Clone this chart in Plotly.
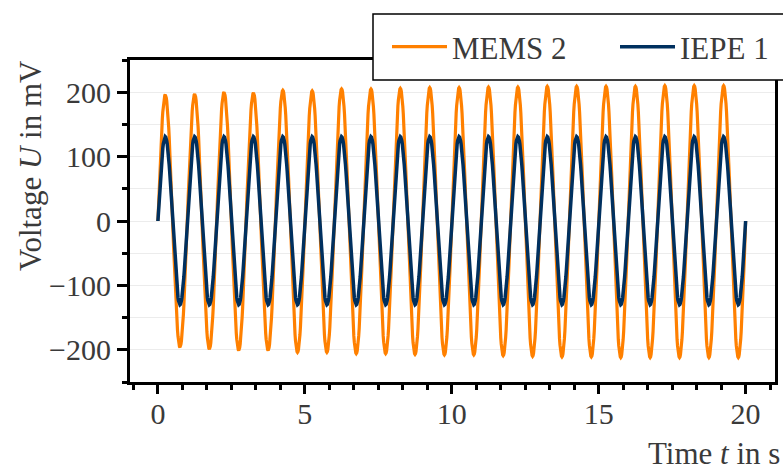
import numpy as np
import plotly.graph_objects as go

# Per-cycle amplitudes (1 Hz signal, 20 cycles over 20 s)
cycles = list(range(20))
mems2_peaks = [196, 197, 200, 199, 203, 202, 205, 205, 206, 207,
               207, 208, 208, 209, 209, 209, 209, 210, 210, 210]
mems2_troughs = [-196, -199, -201, -201, -204, -204, -206, -206, -207, -208,
                 -208, -209, -210, -211, -211, -212, -212, -212, -212, -212]
iepe1_peaks = [131] * 20
iepe1_troughs = [-130] * 20

freq_hz = 1.0
samples_per_s = 60

x_ticks = [0, 5, 10, 15, 20]
y_ticks = [-200, -100, 0, 100, 200]
x_ticktext = ["0", "5", "10", "15", "20"]
y_ticktext = ["\u2212200", "\u2212100", "0", "100", "200"]


def build_wave(peaks, troughs):
    t = np.linspace(0, 20, 20 * samples_per_s + 1)
    shape = np.sin(2 * np.pi * freq_hz * t)
    idx = np.minimum((t * freq_hz).astype(int), len(peaks) - 1)
    amp = np.where(shape >= 0, np.array(peaks)[idx], -np.array(troughs)[idx])
    return t, shape * amp


t_m, y_m = build_wave(mems2_peaks, mems2_troughs)
t_i, y_i = build_wave(iepe1_peaks, iepe1_troughs)

ORANGE = "#FF8000"
NAVY = "#00305F"
TXT = "#3a3a3a"
FONT = "Liberation Serif"

fig = go.Figure()
fig.add_trace(go.Scatter(x=t_m, y=y_m, mode="lines", name="MEMS 2",
                         line=dict(color=ORANGE, width=3.2), legend="legend"))
fig.add_trace(go.Scatter(x=t_i, y=y_i, mode="lines", name="IEPE 1",
                         line=dict(color=NAVY, width=3.5), legend="legend2"))

W, H = 783, 470
L, R, T, B = 130, 8, 60, 88
pw, ph = W - L - R, H - T - B


def px_x(x):
    return (x - L) / pw


def px_y(y):
    return (H - B - y) / ph


legend_common = dict(orientation="h", xanchor="left", yanchor="middle",
                     bgcolor="rgba(0,0,0,0)", borderwidth=0,
                     font=dict(family=FONT, size=31, color=TXT),
                     itemwidth=55)

fig.update_layout(
    template="none",
    width=W, height=H,
    margin=dict(l=L, r=R, t=T, b=B),
    paper_bgcolor="white", plot_bgcolor="white",
    font=dict(family=FONT, size=30, color=TXT),
    showlegend=True,
    legend=dict(x=px_x(387), y=px_y(47), **legend_common),
    legend2=dict(x=px_x(615), y=px_y(47), **legend_common),
    shapes=[dict(type="rect", xref="paper", yref="paper",
                 x0=px_x(373), x1=px_x(810), y0=px_y(80), y1=px_y(14),
                 line=dict(color="black", width=1.5), fillcolor="white",
                 layer="above")],
    annotations=[
        dict(text="Voltage <i>U</i> in mV", x=px_x(30), y=px_y(166),
             xref="paper", yref="paper", textangle=-90, showarrow=False,
             xanchor="center", yanchor="middle",
             font=dict(family=FONT, size=31, color=TXT)),
        dict(text="Time <i>t</i> in s", x=px_x(782), y=px_y(453),
             xref="paper", yref="paper", showarrow=False,
             xanchor="right", yanchor="middle",
             font=dict(family=FONT, size=31, color=TXT)),
    ],
)

fig.update_xaxes(
    range=[-0.95, 21.0], tickmode="array", tickvals=x_ticks,
    ticktext=x_ticktext, showgrid=False, zeroline=False,
    showline=True, linecolor="black", linewidth=3, mirror=True,
    ticks="outside", ticklen=9, tickwidth=3, tickcolor="black",
    ticklabelstandoff=-6,
    tickfont=dict(family=FONT, size=30, color=TXT),
    minor=dict(dtick=5 / 6, tick0=0, ticks="outside", ticklen=5,
               tickwidth=3, tickcolor="black", showgrid=False),
)
fig.update_yaxes(
    range=[-250, 250], tickmode="array", tickvals=y_ticks,
    ticktext=y_ticktext, zeroline=False,
    showgrid=True, gridcolor="#ececec", gridwidth=1,
    showline=True, linecolor="black", linewidth=3, mirror=True,
    ticks="outside", ticklen=10, tickwidth=3, tickcolor="black",
    tickfont=dict(family=FONT, size=30, color=TXT),
    minor=dict(dtick=50, tick0=0, ticks="outside", ticklen=5,
               tickwidth=3, tickcolor="black", showgrid=True,
               gridcolor="#ececec", gridwidth=1),
)

fig.write_html("out.html")
